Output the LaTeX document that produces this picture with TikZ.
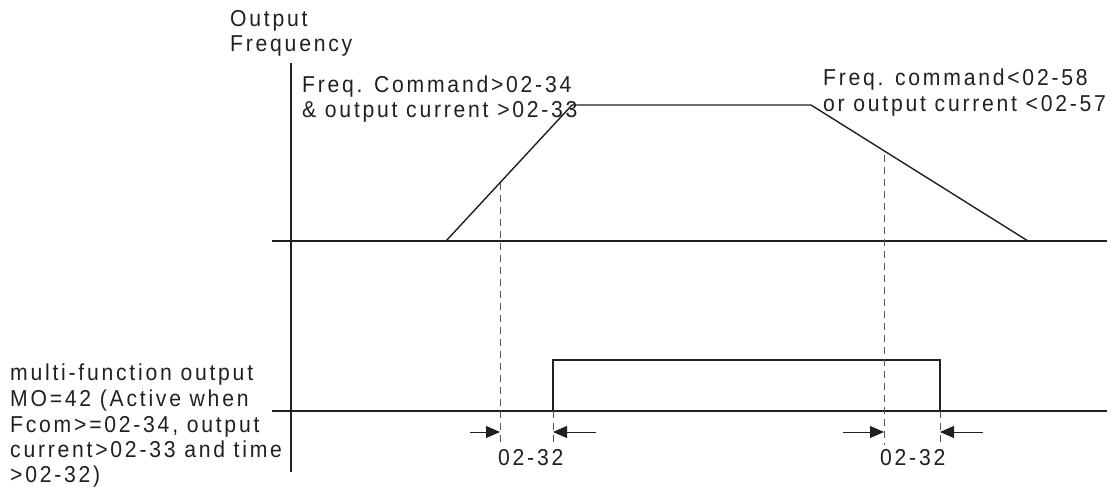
\documentclass[tikz,border=0pt]{standalone}
\usepackage{fontspec}
\setmainfont{Liberation Sans}[LetterSpace=12,FakeStretch=0.92]
\usetikzlibrary{arrows.meta}
\definecolor{ink}{HTML}{231F20}
\definecolor{dash}{HTML}{555555}
\begin{document}
\begin{tikzpicture}[x=1pt,y=-1pt,
  lbl/.style={anchor=base west,inner sep=0pt,text=ink,font=\fontsize{23}{25}\selectfont},
  axis/.style={draw=ink,line width=1.8pt},
  wave/.style={draw=ink,line width=1.4pt},
  guide/.style={draw=dash,line width=1pt,dash pattern=on 7pt off 5pt},
  dimarrow/.style={draw=ink,line width=1pt,-{Triangle[length=14pt,width=12pt]}}]
\useasboundingbox (0,0) rectangle (1120,492);
% axes
\draw[axis] (291,63) -- (291,472);
\draw[axis] (272,241) -- (1107,241);
\draw[axis] (272,411) -- (1107,411);
% output frequency curve
\draw[wave] (446,241) -- (572,105) -- (811,105) -- (1028,241);
% MO pulse
\draw[wave] (553,411) -- (553,360) -- (940,360) -- (940,411);
% guide lines
\draw[guide] (500,183) -- (500,445);
\draw[guide] (553,411) -- (553,443);
\draw[guide] (884,155) -- (884,445);
\draw[guide] (940,411) -- (940,445);
% dimension arrows
\coordinate (a1s) at (470,432); \coordinate (a1e) at (500,432);
\coordinate (a2s) at (596,432); \coordinate (a2e) at (553,432);
\coordinate (a3s) at (843,432); \coordinate (a3e) at (884,432);
\coordinate (a4s) at (983,432); \coordinate (a4e) at (940,432);
\draw[dimarrow] (a1s) -- (a1e);
\draw[dimarrow] (a2s) -- (a2e);
\draw[dimarrow] (a3s) -- (a3e);
\draw[dimarrow] (a4s) -- (a4e);
% texts
\node[lbl] (yl1) at (230,27) {Output};
\node[lbl] (yl2) at (230,52) {Frequency};
\node[lbl] (on1) at (302,93) {Freq. Command>02-34};
\node[lbl] (on2) at (302,118) {\& output current >02-33};
\node[lbl] (of1) at (823,86) {Freq. command<02-58};
\node[lbl] (of2) at (823,112) {or output current <02-57};
\node[lbl] (m1) at (10,380) {multi-function output};
\node[lbl] (m2) at (10,406) {MO=42 (Active when};
\node[lbl] (m3) at (10,432) {Fcom>=02-34, output};
\node[lbl] (m4) at (10,457) {current>02-33 and time};
\node[lbl] (m5) at (10,482) {>02-32)};
\node[lbl] (t1) at (498,465) {02-32};
\node[lbl] (t2) at (880,465) {02-32};
\end{tikzpicture}
\end{document}
